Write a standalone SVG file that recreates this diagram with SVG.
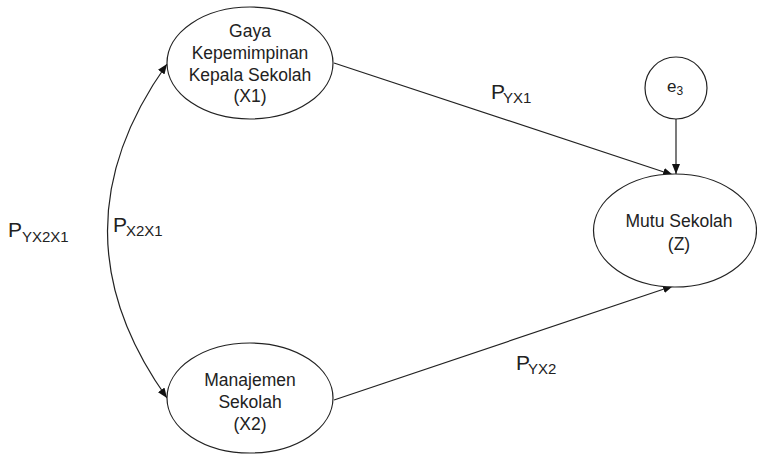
<svg xmlns="http://www.w3.org/2000/svg" width="757" height="454" viewBox="0 0 757 454">
  <style>
    .node { fill: #fff; stroke: #222; stroke-width: 1.2; }
    .edge { fill: none; stroke: #222; stroke-width: 1.2; }
    .lbl { font-family: "Liberation Sans", Arial, sans-serif; font-size: 17.5px; fill: #222; text-anchor: middle; }
    .p { font-family: "Liberation Sans", Arial, sans-serif; font-size: 21px; fill: #222; }
    .sub { font-family: "Liberation Sans", Arial, sans-serif; font-size: 15px; fill: #222; }
  </style>
  <defs>
    <marker id="arrow" viewBox="0 0 10 8" refX="10" refY="4" markerWidth="10" markerHeight="8" markerUnits="userSpaceOnUse" orient="auto-start-reverse">
      <path d="M0,0 L10,4 L0,8 Z" fill="#111"/>
    </marker>
  </defs>

  <!-- connectors -->
  <g id="connectors">
    <path class="edge" d="M167,64 Q48,231 167,398" marker-start="url(#arrow)" marker-end="url(#arrow)"/>
    <line class="edge" x1="334" y1="63" x2="673" y2="175" marker-end="url(#arrow)"/>
    <line class="edge" x1="334" y1="400" x2="673" y2="286" marker-end="url(#arrow)"/>
    <line class="edge" x1="676" y1="119" x2="676" y2="174" marker-end="url(#arrow)"/>
  </g>

  <!-- path coefficient labels -->
  <g id="labels">
    <text class="p" x="8" y="237">P</text><text class="sub" x="22" y="242">YX2X1</text>
    <text class="p" x="113" y="232">P</text><text class="sub" x="126" y="236">X2X1</text>
    <text class="p" x="491" y="99">P</text><text class="sub" x="503" y="103">YX1</text>
    <text class="p" x="516" y="370">P</text><text class="sub" x="528" y="374">YX2</text>
  </g>

  <g id="x1">
    <ellipse class="node" cx="250" cy="63" rx="83" ry="56"/>
    <text class="lbl" x="250" y="37">Gaya</text>
    <text class="lbl" x="250" y="59">Kepemimpinan</text>
    <text class="lbl" x="250" y="81">Kepala Sekolah</text>
    <text class="lbl" x="250" y="102">(X1)</text>
  </g>

  <g id="x2">
    <ellipse class="node" cx="250" cy="398" rx="83" ry="55"/>
    <text class="lbl" x="250" y="386">Manajemen</text>
    <text class="lbl" x="250" y="408">Sekolah</text>
    <text class="lbl" x="250" y="430">(X2)</text>
  </g>

  <g id="z">
    <ellipse class="node" cx="675" cy="230.5" rx="81.5" ry="56.5"/>
    <text class="lbl" x="679" y="227">Mutu Sekolah</text>
    <text class="lbl" x="679" y="250">(Z)</text>
  </g>

  <g id="e3">
    <circle class="node" cx="676" cy="88" r="31"/>
    <text class="lbl" x="675" y="92" style="font-size:17px">e<tspan font-size="12" dy="3">3</tspan></text>
  </g>
</svg>
